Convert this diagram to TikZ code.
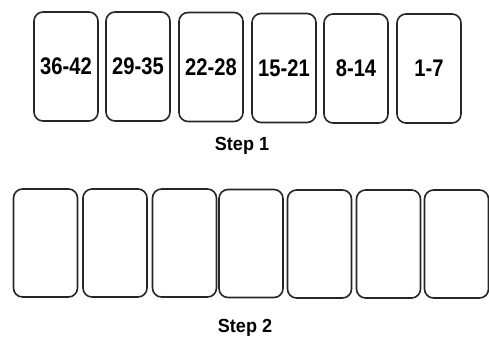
\documentclass[tikz,border=0pt]{standalone}
\usepackage{fontspec}
\setmainfont{Liberation Sans}
\begin{document}
\begin{tikzpicture}[x=1pt,y=-1pt,
  card/.style={draw=black!85, line width=1.6pt, rounded corners=9pt, fill=white,
    minimum width=64pt, minimum height=109pt, inner sep=0pt,
    font=\fontsize{24}{24}\selectfont\bfseries},
  cardlow/.style={card, minimum height=108pt},
  steplabel/.style={font=\fontsize{19}{19}\selectfont\bfseries, inner sep=0pt}]
\useasboundingbox (0,0) rectangle (489,340);
% Step 1 row
\node[card] (a1) at (66,66.5)  {\scalebox{0.84}[1]{36-42}};
\node[card] (a2) at (138,66.5) {\scalebox{0.84}[1]{29-35}};
\node[card] (a3) at (211,67)   {\scalebox{0.84}[1]{22-28}};
\node[card] (a4) at (284,68)   {\scalebox{0.84}[1]{15-21}};
\node[card] (a5) at (356,68.5) {\scalebox{0.84}[1]{8-14}};
\node[card] (a6) at (429,68.5) {\scalebox{0.84}[1]{1-7}};
\node[steplabel] (s1) at (242,146) {\scalebox{0.95}[1]{Step 1}};
% Step 2 row
\node[cardlow] (b1) at (45.5,243)  {};
\node[cardlow] (b2) at (115,243)   {};
\node[cardlow] (b3) at (184.5,243) {};
\node[cardlow] (b4) at (251,243.5) {};
\node[cardlow] (b5) at (319.5,244) {};
\node[cardlow] (b6) at (388.5,244) {};
\node[cardlow] (b7) at (456.5,244) {};
\node[steplabel] (s2) at (245,328) {\scalebox{0.95}[1]{Step 2}};
\end{tikzpicture}
\end{document}
